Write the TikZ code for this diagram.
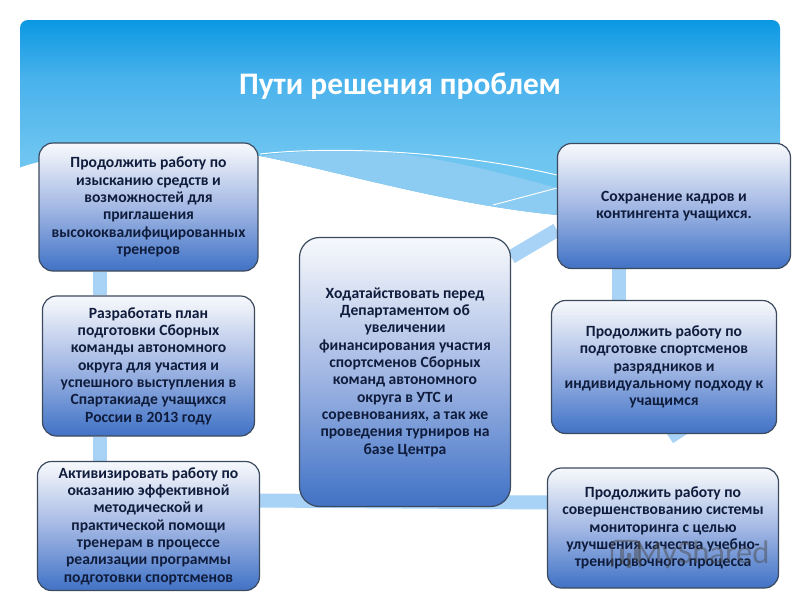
\documentclass[tikz,border=0pt]{standalone}
\usepackage{fontspec}
\setmainfont{Carlito}
\usetikzlibrary{backgrounds}
\definecolor{linkblue}{HTML}{A8D3F6}
\definecolor{bandblue}{HTML}{8CCBF2}
\definecolor{boxedge}{HTML}{3B4A5E}
\definecolor{boxtext}{HTML}{0F1C3C}
\definecolor{shA}{HTML}{4472C4}
\definecolor{shB}{HTML}{4F7DCB}
\definecolor{shC}{HTML}{A3B8E4}
\definecolor{shD}{HTML}{E8EDF7}
\definecolor{shE}{HTML}{F6F8FC}
\definecolor{skyA}{HTML}{6EC5F0}
\definecolor{skyB}{HTML}{49B2EC}
\definecolor{skyC}{HTML}{0B98E2}
\pgfdeclareverticalshading{boxshade}{100bp}{
  color(0bp)=(shA);
  color(25bp)=(shA);
  color(29bp)=(shB);
  color(50bp)=(shC);
  color(70bp)=(shD);
  color(75bp)=(shE);
  color(100bp)=(shE)}
\pgfdeclareverticalshading{skyshade}{100bp}{
  color(0bp)=(skyA);
  color(40bp)=(skyA);
  color(60bp)=(skyB);
  color(75bp)=(skyC);
  color(100bp)=(skyC)}
\tikzset{
  px/.style={x=0.75pt,y=-0.75pt},
  infobox/.style={rounded corners=10.5pt,draw=boxedge,line width=0.9pt,shading=boxshade,
    text=boxtext,align=center,font=\bfseries\fontsize{11.7pt}{13pt}\selectfont,inner sep=0pt,anchor=center},
  link/.style={linkblue,line width=10.5pt,line cap=butt},
  thinwave/.style={white,line width=0.7pt},
  mark text/.style={text=black!70,text opacity=0.5,font=\fontsize{24.5pt}{26pt}\selectfont,inner sep=0pt},
  mark icon/.style={black!70,opacity=0.5,line width=1.6pt},
}
\begin{document}
\begin{tikzpicture}[px]
\useasboundingbox (0,0) rectangle (800,600);
\begin{pgfonlayer}{background}
\fill[white] (0,0) rectangle (800,600);
\shade[shading=skyshade,rounded corners=6pt]
  (20,170) -- (20,20) -- (780,20) -- (780,216) -- (20,216) -- cycle;
\fill[white] (19,168) .. controls (60,152) and (180,140) .. (260,156)
  .. controls (340,172) and (450,205) .. (557,215) -- (781,215) -- (781,217) -- (19,217) -- cycle;
\fill[bandblue] (260,156) .. controls (340,172) and (450,205) .. (557,215) -- (557,188)
  .. controls (500,172) and (440,158) .. (387,152) .. controls (340,148) and (290,152) .. cycle;
\draw[thinwave] (260,154) .. controls (330,146) and (450,150) .. (557,175);
\draw[thinwave] (493,205) -- (557,188);
\end{pgfonlayer}
\node[infobox,minimum width=219*0.75pt,minimum height=128*0.75pt] (a) at (148.5,207) {Продолжить работу по\\изысканию средств и\\возможностей для\\приглашения\\высококвалифицированных\\тренеров};
\node[infobox,minimum width=212*0.75pt,minimum height=140*0.75pt] (b) at (148.5,366) {Разработать план\\подготовки Сборных\\команды автономного\\округа для участия и\\успешного выступления в\\Спартакиаде учащихся\\России в 2013 году};
\node[infobox,minimum width=222*0.75pt,minimum height=129*0.75pt] (c) at (148.5,526) {Активизировать работу по\\оказанию эффективной\\методической и\\практической помощи\\тренерам в процессе\\реализации программы\\подготовки спортсменов};
\node[infobox,rounded corners=15pt,minimum width=211*0.75pt,minimum height=269*0.75pt] (m) at (405,372) {Ходатайствовать перед\\Департаментом об\\увеличении\\финансирования  участия\\спортсменов Сборных\\команд автономного\\округа в УТС и\\соревнованиях, а так же\\проведения турниров на\\базе Центра};
\node[infobox,minimum width=233*0.75pt,minimum height=125*0.75pt] (d) at (674,206) {Сохранение кадров и\\контингента учащихся.};
\node[infobox,minimum width=225*0.75pt,minimum height=133*0.75pt] (e) at (664,367) {Продолжить работу по\\подготовке спортсменов\\разрядников и\\индивидуальному подходу к\\учащимся};
\node[infobox,minimum width=231*0.75pt,minimum height=120*0.75pt] (f) at (663,528) {Продолжить работу по\\совершенствованию системы\\мониторинга с целью\\улучшения качества учебно-\\тренировочного процесса};
\begin{pgfonlayer}{background}
\draw[link] ([xshift=-49*0.75pt]a.south) -- ([xshift=-49*0.75pt]b.north);
\draw[link] ([xshift=-49*0.75pt]b.south) -- ([xshift=-49*0.75pt]c.north);
\draw[link] ([yshift=25.5*0.75pt]c.east) -- ([yshift=25.5*0.75pt]f.west);
\draw[link] ([yshift=115*0.75pt]m.east) -- ([yshift=-24*0.75pt]d.west);
\draw[link] ([xshift=-55*0.75pt]d.south) -- ([xshift=-45*0.75pt]e.north);
\fill[linkblue] ([xshift=3*0.75pt]e.south) -- ([xshift=23*0.75pt]e.south) -- ([xshift=9*0.75pt,yshift=-9*0.75pt]e.south) -- cycle;
\end{pgfonlayer}
\node[text=white,font=\bfseries\fontsize{23.5pt}{28pt}\selectfont,inner sep=0pt] (title) at (400,86) {Пути решения проблем};
\node[mark text,anchor=center] (wm) at (702,555) {MyShared};
\draw[mark icon,rounded corners=3pt] (612,567) -- (612,541) -- (640,541) -- (640,567);
\fill[mark icon] (620,548) rectangle (624,564) (627,553) rectangle (631,568) (634,548) rectangle (637,560);
\end{tikzpicture}
\end{document}
